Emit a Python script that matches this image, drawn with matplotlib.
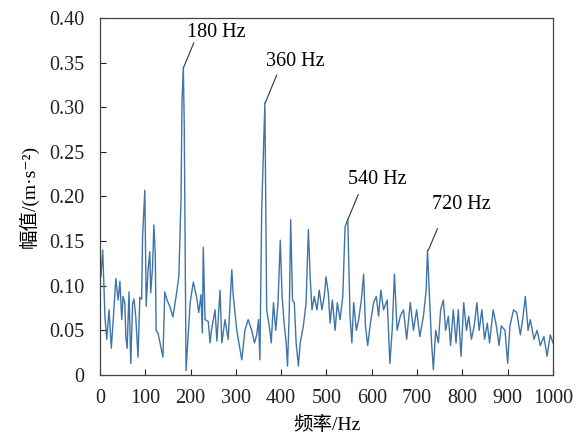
import numpy as np
import matplotlib
matplotlib.use('Agg')
import matplotlib.pyplot as plt
from matplotlib.ticker import FuncFormatter

plt.rcParams['font.family'] = ['Liberation Serif', 'Noto Sans CJK SC', 'DejaVu Serif']

# spectrum (Hz, m/s^2)
freq = [2, 6, 11, 15, 20, 25, 29, 35, 40, 44, 48, 51, 55, 57, 60, 64, 68, 72, 75, 79,
        84, 88, 92, 94, 99, 102, 106, 110, 112, 116, 119, 122, 124, 128, 133, 139, 143, 148, 154, 161,
        168, 174, 179, 181, 184, 186, 190, 199, 206, 213, 218, 223, 226, 228, 232, 239, 243, 246, 254, 258,
        265, 269, 276, 283, 291, 294, 302, 313, 320, 327, 335, 341, 346, 350, 353, 357, 364, 368, 375, 378,
        383, 388, 393, 398, 402, 407, 411, 414, 418, 421, 425, 429, 433, 438, 442, 449, 455, 460, 464, 468,
        473, 479, 484, 490, 495, 499, 504, 508, 513, 519, 524, 530, 536, 541, 547, 552, 556, 560, 566, 571,
        577, 582, 586, 591, 597, 604, 610, 615, 620, 626, 634, 640, 645, 650, 656, 663, 670, 677, 685, 692,
        699, 706, 714, 720, 723, 727, 732, 736, 741, 747, 752, 758, 763, 769, 774, 780, 786, 791, 797, 803,
        809, 814, 820, 826, 832, 837, 843, 849, 855, 860, 868, 875, 881, 886, 894, 900, 905, 913, 920, 928,
        933, 939, 945, 950, 958, 965, 972, 980, 987, 994, 1000]
amp = [0.110, 0.140, 0.065, 0.040, 0.073, 0.030, 0.060, 0.108, 0.084, 0.105, 0.062, 0.088, 0.080, 0.043, 0.030, 0.093, 0.013, 0.080, 0.085, 0.065,
       0.020, 0.087, 0.085, 0.155, 0.207, 0.077, 0.117, 0.138, 0.092, 0.121, 0.168, 0.136, 0.050, 0.047, 0.035, 0.020, 0.093, 0.084, 0.077, 0.065,
       0.088, 0.110, 0.200, 0.305, 0.345, 0.280, 0.005, 0.081, 0.104, 0.088, 0.070, 0.090, 0.047, 0.143, 0.062, 0.060, 0.036, 0.050, 0.073, 0.038,
       0.095, 0.036, 0.062, 0.040, 0.118, 0.090, 0.050, 0.017, 0.050, 0.062, 0.050, 0.036, 0.045, 0.062, 0.017, 0.185, 0.305, 0.073, 0.050, 0.036,
       0.081, 0.050, 0.081, 0.151, 0.088, 0.055, 0.036, 0.010, 0.073, 0.174, 0.084, 0.081, 0.036, 0.010, 0.036, 0.055, 0.081, 0.163, 0.110, 0.073,
       0.088, 0.073, 0.095, 0.073, 0.088, 0.110, 0.092, 0.058, 0.084, 0.050, 0.081, 0.062, 0.088, 0.166, 0.174, 0.066, 0.036, 0.081, 0.050, 0.062,
       0.084, 0.113, 0.055, 0.033, 0.058, 0.081, 0.088, 0.066, 0.095, 0.073, 0.084, 0.013, 0.050, 0.113, 0.050, 0.066, 0.073, 0.040, 0.081, 0.050,
       0.073, 0.043, 0.066, 0.095, 0.140, 0.092, 0.036, 0.006, 0.050, 0.036, 0.073, 0.084, 0.050, 0.066, 0.033, 0.073, 0.036, 0.073, 0.021, 0.081,
       0.050, 0.066, 0.040, 0.055, 0.081, 0.050, 0.073, 0.040, 0.058, 0.036, 0.073, 0.055, 0.033, 0.055, 0.050, 0.013, 0.055, 0.073, 0.070, 0.045,
       0.062, 0.088, 0.050, 0.062, 0.040, 0.050, 0.033, 0.043, 0.021, 0.045, 0.036]

# peak labels: text, peak point, end of leader, text position
labels = ['180 Hz', '360 Hz', '540 Hz', '720 Hz']
peak_xy = [(185, 0.345), (365, 0.305), (547, 0.174), (725, 0.140)]
lead_xy = [(207, 0.372), (390, 0.336), (570, 0.202), (745, 0.164)]
text_xy = [(256, 0.384), (432, 0.351), (613, 0.219), (797, 0.191)]

fig = plt.figure(figsize=(5.83, 4.43), dpi=100)
ax = fig.add_axes([0.1715, 0.1535, 0.777, 0.806])

ax.plot(freq, amp, color='#3f74a8', lw=1.0)

for s, p, l, t in zip(labels, peak_xy, lead_xy, text_xy):
    ax.plot([p[0], l[0]], [p[1], l[1]], color='#333333', lw=0.8)
    ax.text(t[0], t[1], s, fontsize=14.5, ha='center', va='center')

ax.set_xlim(0, 1000)
ax.set_ylim(0, 0.40)
ax.set_xticks(np.arange(0, 1001, 100))
ax.set_yticks(np.arange(0, 0.401, 0.05))
ax.yaxis.set_major_formatter(FuncFormatter(lambda v, p: '0' if v == 0 else '%.2f' % v))
ax.tick_params(direction='in', length=4, labelsize=14.5, colors='#222222')
ax.tick_params(axis='y', pad=11)
ax.tick_params(axis='x', pad=10)
for sp in ax.spines.values():
    sp.set_color('#444444')
    sp.set_linewidth(0.9)

ax.set_xlabel('频率/Hz', fontsize=14, labelpad=6)
ax.set_ylabel('幅值/(m·s⁻²)', fontsize=14, labelpad=8)

fig.savefig('out.png', dpi=100)
